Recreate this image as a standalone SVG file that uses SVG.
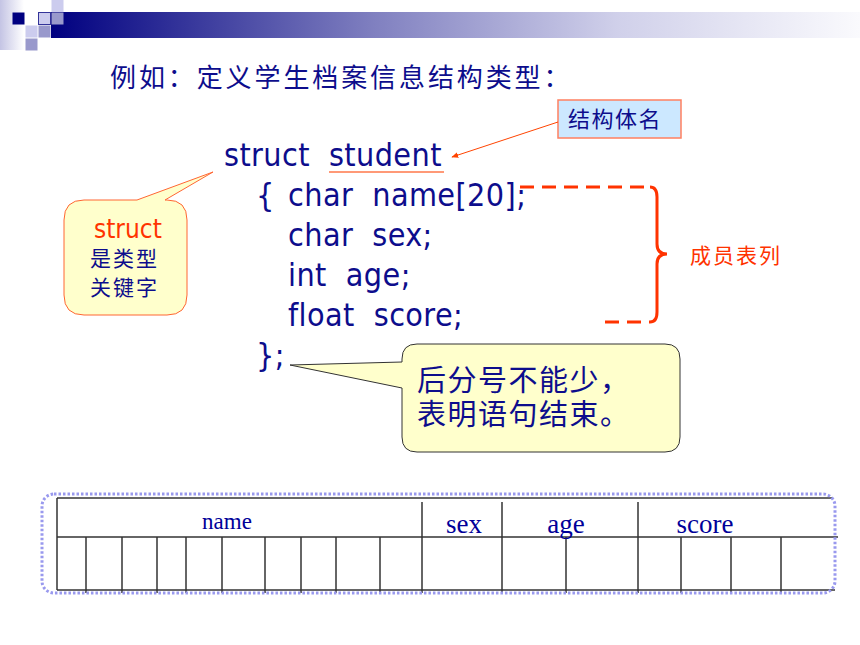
<svg xmlns="http://www.w3.org/2000/svg" width="860" height="645" viewBox="0 0 860 645">
<defs>
<linearGradient id="band" x1="0" y1="0" x2="1" y2="0">
<stop offset="0" stop-color="#000080"/>
<stop offset="0.4" stop-color="#8080c0"/>
<stop offset="0.7" stop-color="#d0d0ea"/>
<stop offset="1" stop-color="#fafafd"/>
</linearGradient>
<linearGradient id="leftfade" x1="0" y1="0" x2="1" y2="0">
<stop offset="0" stop-color="#c4c4e4"/>
<stop offset="1" stop-color="#ffffff"/>
</linearGradient>
<marker id="arr" viewBox="0 0 10 10" refX="9" refY="5" markerWidth="7" markerHeight="7" orient="auto" markerUnits="userSpaceOnUse">
<path d="M0,1 L10,5 L0,9 z" fill="#ff4400"/>
</marker>
<style>
.code{font-family:"DejaVu Sans Condensed","DejaVu Sans",sans-serif;font-stretch:condensed;font-size:32px;letter-spacing:0.4px;fill:#0d0d8c;white-space:pre}
.cjk{font-family:"Noto Sans CJK SC",sans-serif}
.navy{fill:#0d0d8c}
.red{fill:#ff3300}
.tbl{stroke:#333333;stroke-width:1.5;fill:none}
.ttxt{font-family:"Liberation Serif",serif;fill:#000099}
.dash{stroke:#ff3300;stroke-width:3;fill:none;stroke-dasharray:14 8}
</style>
</defs>
<rect width="860" height="645" fill="#ffffff"/>

<!-- header decoration -->
<g id="header">
<rect x="0" y="0" width="24" height="50" fill="url(#leftfade)"/>
<rect x="51" y="12" width="809" height="26" fill="url(#band)"/>
<rect x="12.5" y="12.5" width="12" height="12" fill="#000080"/>
<rect x="38.5" y="12.5" width="12" height="12" fill="#ccccee" stroke="#333399" stroke-width="1"/>
<rect x="51.5" y="0" width="12" height="12" fill="#ccccee"/>
<rect x="51.5" y="12.5" width="12" height="12" fill="#9999cc"/>
<rect x="25.5" y="25.5" width="12" height="12" fill="#ccccee"/>
<rect x="38.5" y="25.5" width="12" height="12" fill="#9999cc"/>
<rect x="25.5" y="38.5" width="12" height="12" fill="#9999cc"/>
</g>

<g id="title">
<text x="110" y="87" class="cjk navy" font-size="26" letter-spacing="2.9">例如：定义学生档案信息结构类型：</text>
</g>

<g id="code">
<text x="224" y="166" class="code">struct  student</text>
<line x1="329" y1="172" x2="444" y2="172" stroke="#ff9977" stroke-width="2"/>
<text x="256" y="206" class="code">{</text>
<text x="288" y="206" class="code">char  name[20];</text>
<text x="288" y="246" class="code">char  sex;</text>
<text x="288" y="286" class="code">int  age;</text>
<text x="288" y="326" class="code">float  score;</text>
<text x="256" y="366" class="code">};</text>
</g>

<g id="struct-name-label">
<rect x="558" y="100" width="123" height="38" fill="#cce8ff" stroke="#ff8060" stroke-width="1.5"/>
<text x="568" y="127" class="cjk navy" font-size="22" letter-spacing="1.5">结构体名</text>
</g>

<g id="keyword-callout">
<path d="M84,200 L137,200 L213,172 L165,200 L167,200 Q187,200 187,220 L187,295 Q187,315 167,315 L84,315 Q64,315 64,295 L64,220 Q64,200 84,200 Z" fill="#ffffcc" stroke="#ff6633" stroke-width="1"/>
<text x="94" y="238" font-family="DejaVu Sans Condensed, DejaVu Sans, sans-serif" font-stretch="condensed" font-size="26" class="red">struct</text>
<text x="90" y="266" class="cjk navy" font-size="21" letter-spacing="2">是类型</text>
<text x="90" y="295" class="cjk navy" font-size="21" letter-spacing="2">关键字</text>
</g>

<g id="members-label">
<text x="690" y="263" class="cjk red" font-size="21" letter-spacing="2">成员表列</text>
</g>

<g id="semicolon-callout">
<path d="M417,344 L665,344 Q680,344 680,359 L680,437 Q680,452 665,452 L417,452 Q402,452 402,437 L402,388 L290,365 L402,362 L402,359 Q402,344 417,344 Z" fill="#ffffcc" stroke="#333333" stroke-width="1"/>
<text x="417" y="391" class="cjk navy" font-size="29" letter-spacing="1.5">后分号不能少，</text>
<text x="417" y="425" class="cjk navy" font-size="29" letter-spacing="1.5">表明语句结束。</text>
</g>

<g id="connectors">
<line x1="558" y1="122" x2="452" y2="157" stroke="#ff4400" stroke-width="1" marker-end="url(#arr)"/>
<line x1="520" y1="187" x2="650" y2="187" class="dash"/>
<line x1="605" y1="322" x2="650" y2="322" class="dash"/>
<path d="M650,187 Q657,187 657,197 L657,244 Q657,254 667,254 Q657,254 657,264 L657,312 Q657,322 650,322" stroke="#ff3300" stroke-width="3" fill="none"/>
</g>

<g id="memory-table">
<line x1="57" y1="498" x2="833" y2="498" class="tbl"/>
<line x1="57" y1="537" x2="838" y2="537" class="tbl"/>
<line x1="57" y1="590" x2="835" y2="590" class="tbl"/>
<line x1="57" y1="498" x2="57" y2="590" class="tbl"/>
<line x1="422" y1="502" x2="422" y2="537" class="tbl"/>
<line x1="502" y1="502" x2="502" y2="537" class="tbl"/>
<line x1="638" y1="502" x2="638" y2="537" class="tbl"/>
<g class="tbl">
<line x1="86" y1="537" x2="86" y2="593"/>
<line x1="122" y1="537" x2="122" y2="593"/>
<line x1="157" y1="537" x2="157" y2="593"/>
<line x1="186" y1="537" x2="186" y2="593"/>
<line x1="222" y1="537" x2="222" y2="593"/>
<line x1="265" y1="537" x2="265" y2="593"/>
<line x1="301" y1="537" x2="301" y2="593"/>
<line x1="336" y1="537" x2="336" y2="593"/>
<line x1="380" y1="537" x2="380" y2="593"/>
<line x1="422" y1="537" x2="422" y2="593"/>
<line x1="502" y1="537" x2="502" y2="593"/>
<line x1="566" y1="537" x2="566" y2="593"/>
<line x1="638" y1="537" x2="638" y2="593"/>
<line x1="681" y1="537" x2="681" y2="593"/>
<line x1="731" y1="537" x2="731" y2="593"/>
<line x1="781" y1="537" x2="781" y2="593"/>
</g>
<text x="227" y="529" class="ttxt" font-size="23" text-anchor="middle">name</text>
<text x="464" y="533" class="ttxt" font-size="27" text-anchor="middle">sex</text>
<text x="566" y="533" class="ttxt" font-size="27" text-anchor="middle">age</text>
<text x="705" y="533" class="ttxt" font-size="27" text-anchor="middle">score</text>
<rect x="42" y="494" width="793" height="99" rx="12" ry="12" fill="none" stroke="#9999ee" stroke-width="3" stroke-dasharray="2.5 2"/>
</g>
</svg>
